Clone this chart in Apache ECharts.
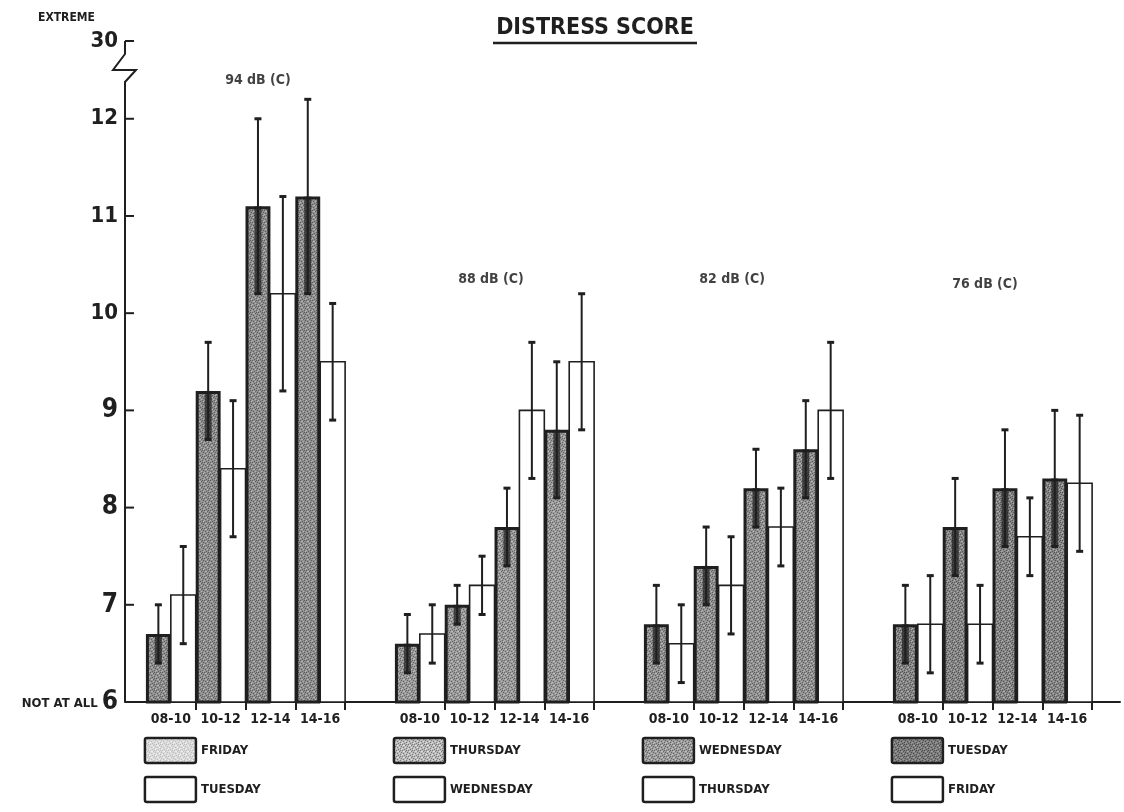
<!DOCTYPE html>
<html><head><meta charset="utf-8">
<script src="https://cdn.jsdelivr.net/npm/echarts@6/dist/echarts.min.js"></script>
<style>html,body{margin:0;padding:0;background:#fff}#c{width:1124px;height:812px}</style>
</head><body><div id="c"></div>
<script>
// ---- data ----
const periods = ['08-10', '10-12', '12-14', '14-16'];
const groupLabels = ['94 dB (C)', '88 dB (C)', '82 dB (C)', '76 dB (C)'];
const shadedDays = ['FRIDAY', 'THURSDAY', 'WEDNESDAY', 'TUESDAY'];
const whiteDays = ['TUESDAY', 'WEDNESDAY', 'THURSDAY', 'FRIDAY'];
const shadedMean = [[6.7, 9.2, 11.1, 11.2], [6.6, 7.0, 7.8, 8.8], [6.8, 7.4, 8.2, 8.6], [6.8, 7.8, 8.2, 8.3]];
const shadedErr  = [[0.3, 0.5, 0.9, 1.0], [0.3, 0.2, 0.4, 0.7], [0.4, 0.4, 0.4, 0.5], [0.4, 0.5, 0.6, 0.7]];
const whiteMean  = [[7.1, 8.4, 10.2, 9.5], [6.7, 7.2, 9.0, 9.5], [6.6, 7.2, 7.8, 9.0], [6.8, 6.8, 7.7, 8.25]];
const whiteErr   = [[0.5, 0.7, 1.0, 0.6], [0.3, 0.3, 0.7, 0.7], [0.4, 0.5, 0.4, 0.7], [0.5, 0.4, 0.4, 0.7]];
const yTickValues = [6, 7, 8, 9, 10, 11, 12];
const yBreakLabel = '30';

// ---- layout constants ----
const FONT = "'DejaVu Sans Condensed', 'DejaVu Sans', sans-serif";
const INK = '#1f1f1f';
const X_MIN = -0.42, X_MAX = 19.56, Y_MIN = 6, Y_TOP = 12.8;
const SLOTS_PER_GROUP = 5;

function stipple(base, dark, light) {
  const c = document.createElement('canvas'); c.width = 6; c.height = 6;
  const ctx = c.getContext('2d');
  ctx.fillStyle = base; ctx.fillRect(0, 0, 6, 6);
  ctx.fillStyle = dark;
  [[0,0],[3,1],[1,3],[4,4],[5,2],[2,5],[4,0]].forEach(p => ctx.fillRect(p[0], p[1], 1, 1));
  ctx.fillStyle = light;
  [[2,1],[5,5],[0,4],[3,3],[1,1]].forEach(p => ctx.fillRect(p[0], p[1], 1, 1));
  return { image: c, repeat: 'repeat' };
}
const barFills = [stipple('#8e8e8e', '#5e5e5e', '#b4b4b4'), stipple('#9a9a9a', '#666', '#bdbdbd'),
                  stipple('#919191', '#5f5f5f', '#b6b6b6'), stipple('#868686', '#555', '#adadad')];
const legendFills = [stipple('#dadada', '#bdbdbd', '#f0f0f0'), stipple('#b9b9b9', '#7a7a7a', '#e0e0e0'),
                     stipple('#9c9c9c', '#666', '#c4c4c4'), stipple('#7c7c7c', '#4e4e4e', '#9e9e9e')];

const pairData = [];
for (let g = 0; g < 4; g++) {
  for (let p = 0; p < 4; p++) {
    pairData.push([g * SLOTS_PER_GROUP + p, shadedMean[g][p], shadedErr[g][p], whiteMean[g][p], whiteErr[g][p], g]);
  }
}
const tickVals = [], centerVals = [];
for (let g = 0; g < 4; g++) for (let p = 0; p < 4; p++) {
  tickVals.push(g * SLOTS_PER_GROUP + p + 1);
  centerVals.push(g * SLOTS_PER_GROUP + p + 0.5);
}

function errBar(cx, yLo, yHi, capLo, capHi) {
  const els = [{ type: 'line', shape: { x1: cx, y1: yLo, x2: cx, y2: yHi }, style: { stroke: INK, lineWidth: 2 } }];
  if (capHi) els.push({ type: 'line', shape: { x1: cx - 3.5, y1: yHi, x2: cx + 3.5, y2: yHi }, style: { stroke: INK, lineWidth: 3 } });
  if (capLo) els.push({ type: 'line', shape: { x1: cx - 3.5, y1: yLo, x2: cx + 3.5, y2: yLo }, style: { stroke: INK, lineWidth: 3 } });
  return els;
}

function renderPair(params, api) {
  const s = api.value(0), sm = api.value(1), se = api.value(2), wm = api.value(3), we = api.value(4), g = api.value(5);
  const base = api.coord([s, Y_MIN]);
  const x0 = base[0];
  const w = api.size([0.5, 0])[0];
  const y = v => api.coord([s, v])[1];
  const ySm = y(sm), yWm = y(wm);
  const cxS = x0 + w / 2, cxW = x0 + w * 1.5;
  const children = [
    { type: 'rect', shape: { x: x0 + 1.5, y: ySm + 1.5, width: w - 3, height: base[1] - ySm - 1.5 },
      style: { fill: barFills[g], stroke: INK, lineWidth: 3 } },
    { type: 'rect', shape: { x: x0 + w, y: yWm, width: w, height: base[1] - yWm },
      style: { fill: '#fff', stroke: INK, lineWidth: 1.6 } },
    { type: 'line', shape: { x1: cxS, y1: ySm, x2: cxS, y2: y(sm - se) },
      style: { stroke: 'rgba(30,30,30,0.72)', lineWidth: 7 } }
  ];
  errBar(cxS, y(sm - se), y(sm + se), true, true).forEach(e => children.push(e));
  errBar(cxW, y(wm - we), y(wm + we), true, true).forEach(e => children.push(e));
  return { type: 'group', children };
}

// y-axis line with a zig-zag break below the "30" tick, plus inward ticks
function renderAxis(params, api) {
  const top = api.coord([X_MIN, Y_TOP]);
  const bot = api.coord([X_MIN, Y_MIN]);
  const x = top[0], t = top[1];
  const children = [{
    type: 'polyline',
    shape: { points: [[x, t], [x, t + 13], [x - 12, t + 29], [x + 11, t + 29], [x, t + 41], [x, bot[1]]] },
    style: { stroke: INK, lineWidth: 2, fill: null }
  }];
  yTickValues.concat([Y_TOP]).forEach(v => {
    const yy = api.coord([X_MIN, v])[1];
    if (v !== Y_MIN) children.push({ type: 'line', shape: { x1: x, y1: yy, x2: x + 9, y2: yy }, style: { stroke: INK, lineWidth: 2 } });
  });
  return { type: 'group', children };
}

const chart = echarts.init(document.getElementById('c'), null, { renderer: 'canvas' });
const option = {
  animation: false,
  backgroundColor: '#fff',
  grid: { left: 125, right: 4, top: 41, bottom: 110, containLabel: false },
  xAxis: {
    type: 'value', min: X_MIN, max: X_MAX,
    splitLine: { show: false },
    axisLine: { show: true, onZero: false, lineStyle: { color: INK, width: 2 } },
    axisTick: { show: true, customValues: tickVals, length: 8, lineStyle: { color: INK, width: 2 } },
    axisLabel: {
      customValues: centerVals, margin: 10, color: INK,
      fontFamily: FONT, fontWeight: 'bold', fontSize: 14,
      formatter: v => periods[Math.round(v - 0.5) % SLOTS_PER_GROUP] || ''
    }
  },
  yAxis: {
    type: 'value', min: Y_MIN, max: Y_TOP,
    splitLine: { show: false },
    axisLine: { show: false, onZero: false },
    axisTick: { show: false },
    axisLabel: {
      customValues: yTickValues.concat([Y_TOP]), margin: 7, color: INK, fontFamily: FONT, fontWeight: 'bold',
      formatter: v => {
        if (v > 12.5) return '{m|' + yBreakLabel + '}';
        if (v === 6) return '{s|NOT AT ALL }{b|6}';
        if (v <= 9) return '{b|' + v + '}';
        return '{m|' + v + '}';
      },
      rich: {
        s: { fontFamily: FONT, fontWeight: 'bold', fontSize: 13, color: INK, padding: [4, 0, 0, 0] },
        b: { fontFamily: FONT, fontWeight: 'bold', fontSize: 26, color: INK },
        m: { fontFamily: FONT, fontWeight: 'bold', fontSize: 22, color: INK }
      }
    }
  },
  series: [
    { type: 'custom', name: 'bars', renderItem: renderPair, data: pairData, encode: { x: 0, y: [1, 3] }, clip: false, z: 2 },
    { type: 'custom', name: 'yaxis', renderItem: renderAxis, data: [[0]], clip: false, z: 3, silent: true },
    {
      type: 'scatter', symbolSize: 0, silent: true, z: 4,
      data: groupLabels.map((t, g) => ({ value: [[2.25, 1.93, 1.77, 1.85][g] + g * SLOTS_PER_GROUP, [12.4, 10.35, 10.35, 10.3][g]], name: t })),
      label: { show: true, position: 'inside', formatter: p => p.name, color: '#111', textBorderWidth: 0,
               fontFamily: FONT, fontWeight: 'bold', fontSize: 14 },
      emphasis: { disabled: true }
    }
  ]
};
chart.setOption(option);

// legend & titles placed relative to axis positions
const baseY = chart.convertToPixel({ yAxisIndex: 0 }, Y_MIN);
const gfx = [
  { type: 'text', x: 595, y: 28, style: { text: 'DISTRESS SCORE', x: 0, y: 0, align: 'center', verticalAlign: 'middle',
      font: 'bold 23px ' + FONT, fill: INK } },
  { type: 'line', shape: { x1: 493, y1: 43, x2: 697, y2: 43 }, style: { stroke: INK, lineWidth: 2.5 } },
  { type: 'text', x: 38, y: 18, style: { text: 'EXTREME', x: 0, y: 0, align: 'left', verticalAlign: 'middle',
      font: 'bold 12px ' + FONT, fill: INK } }
];
for (let g = 0; g < 4; g++) {
  const gx = chart.convertToPixel({ xAxisIndex: 0 }, g * SLOTS_PER_GROUP);
  [[shadedDays[g], legendFills[g], 36], [whiteDays[g], '#fff', 75]].forEach(([name, fill, dy]) => {
    gfx.push({ type: 'rect', shape: { x: gx - 1, y: baseY + dy, width: 51, height: 25, r: 2 },
      style: { fill, stroke: INK, lineWidth: 2.5 } });
    gfx.push({ type: 'text', x: gx + 55, y: baseY + dy + 13, style: { text: name, x: 0, y: 0, align: 'left', verticalAlign: 'middle',
      font: 'bold 13px ' + FONT, fill: INK } });
  });
}
chart.setOption({ graphic: gfx });
</script>
</body></html>
